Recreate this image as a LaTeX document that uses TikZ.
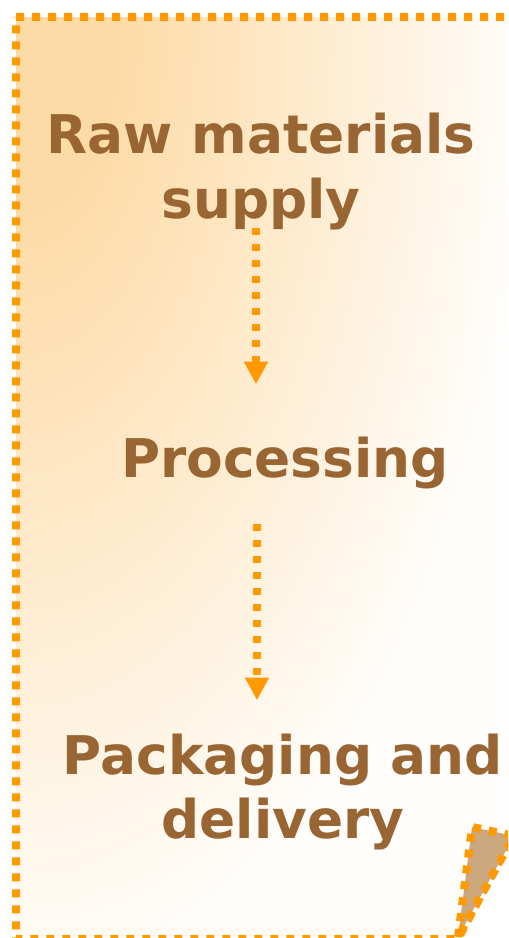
\documentclass[tikz,border=0pt]{standalone}
\usepackage{fontspec}
\setmainfont{DejaVu Sans}
\usetikzlibrary{arrows.meta}
\definecolor{notepeach}{HTML}{FDDBA6}
\definecolor{noteorange}{HTML}{FF9900}
\definecolor{notebrown}{HTML}{996633}
\definecolor{notefold}{HTML}{CBA77E}
\colorlet{notepale}{white!97!notepeach}
\pgfdeclareradialshading{notefade}{\pgfpoint{0bp}{0bp}}{color(0bp)=(notepeach); color(5bp)=(notepeach); color(25bp)=(notepale); color(50bp)=(notepale)}

\begin{document}
\begin{tikzpicture}[x=0.75pt,y=-0.75pt,
    stage/.style={font=\bfseries\fontsize{40}{48}\selectfont, text=notebrown,
      align=center, inner sep=0pt, anchor=base},
    dotted edge/.style={draw=noteorange, line width=6pt, dash pattern=on 6pt off 6pt},
    flow/.style={noteorange, line width=6pt, dash pattern=on 5.25pt off 6.75pt,
      -{Triangle[length=17pt,width=17pt]}}]
  % Fix the page to the reference size
  \useasboundingbox (0,0) rectangle (508,938);
  \clip (0,0) rectangle (508,938);

  % Draw the note with its gradient
  \begin{scope}
    \clip (16,17) -- (516,17) -- (516,830) -- (458,939) -- (16,939) -- cycle;
    \fill[notepale] (0,0) rectangle (520,940);
    \shade[shading=notefade] (16,17) ellipse (520 and 980);
  \end{scope}
  \draw[dotted edge] (16,17) -- (516,17) -- (516,830) -- (458,939) -- (16,939) -- cycle;

  % Draw the folded corner
  \draw[dotted edge, fill=notefold, line join=round] (458,937) -- (472,827) -- (514,836) -- cycle;

  % Stage labels (anchored on the last line)
  \node[stage] (raw) at (261,218) {Raw materials\\supply};
  \node[stage] (proc) at (285,477) {Processing};
  \node[stage] (pack) at (283,838) {Packaging and\\delivery};

  % Arrows between the stages
  \draw[flow] ([shift={(-5,-2)}]raw.south) -- ([shift={(-29,-52)}]proc.north);
  \draw[flow] ([shift={(-28,35)}]proc.south) -- ([shift={(-26,-33)}]pack.north);
\end{tikzpicture}
\end{document}
